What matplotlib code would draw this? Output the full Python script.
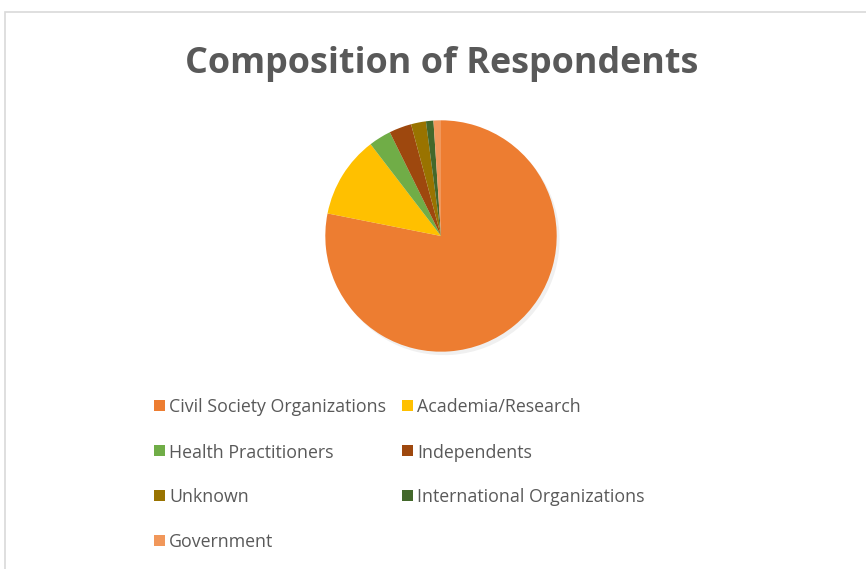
import matplotlib
matplotlib.use("Agg")
import matplotlib.pyplot as plt
from matplotlib.patches import Rectangle

categories = ["Civil Society Organizations", "Academia/Research", "Health Practitioners",
              "Independents", "Unknown", "International Organizations", "Government"]
values = [75, 11, 3, 3, 2, 1, 1]
colors = ["#ED7D31", "#FFC000", "#70AD47", "#9E480E", "#997300", "#43682B", "#F1975A"]
title = "Composition of Respondents"

W, H = 866, 569
fig = plt.figure(figsize=(W / 100, H / 100), dpi=100)
fig.patch.set_facecolor("white")

# chart area border (light gray), extends beyond the picture on right/bottom
fig.patches.append(Rectangle((5 / W, -0.1), 1.2, 1 - 12 / H + 0.1, transform=fig.transFigure,
                             fill=False, edgecolor="#D9D9D9", linewidth=1.2))

cx, cy, r = 441, 236, 118
ax = fig.add_axes([(cx - r) / W, (H - cy - r) / H, 2 * r / W, 2 * r / H])
# faint shadow
ax.pie(values, startangle=90, counterclock=False, radius=1.0,
       colors=["#000000"] * len(values), center=(0.025, -0.03),
       wedgeprops=dict(linewidth=0, alpha=0.06))
ax.pie(values, startangle=90, counterclock=False, radius=1.0, colors=colors,
       wedgeprops=dict(linewidth=0))
ax.set_xlim(-1.02, 1.02)
ax.set_ylim(-1.02, 1.02)
ax.set_aspect("equal")
ax.axis("off")

fam = ["Open Sans", "DejaVu Sans"]
fig.text(442 / W, (H - 73) / H, title, ha="center", va="baseline",
         fontsize=25.8, fontweight="bold", color="#595959", family=fam)

# legend, row-major in two columns
col_x = [154, 402]
row_y = [405.5, 450.5, 495, 540]
sq = 11
for i, (lab, col) in enumerate(zip(categories, colors)):
    row, c = divmod(i, 2)
    x, y = col_x[c], row_y[row]
    fig.patches.append(Rectangle((x / W, (H - y - sq / 2) / H), sq / W, sq / H,
                                 transform=fig.transFigure, facecolor=col, edgecolor="none"))
    fig.text((x + 15) / W, (H - y) / H, lab, ha="left", va="center_baseline",
             fontsize=12.8, color="#595959", family=fam)

fig.savefig("out.png", dpi=100, facecolor="white")
